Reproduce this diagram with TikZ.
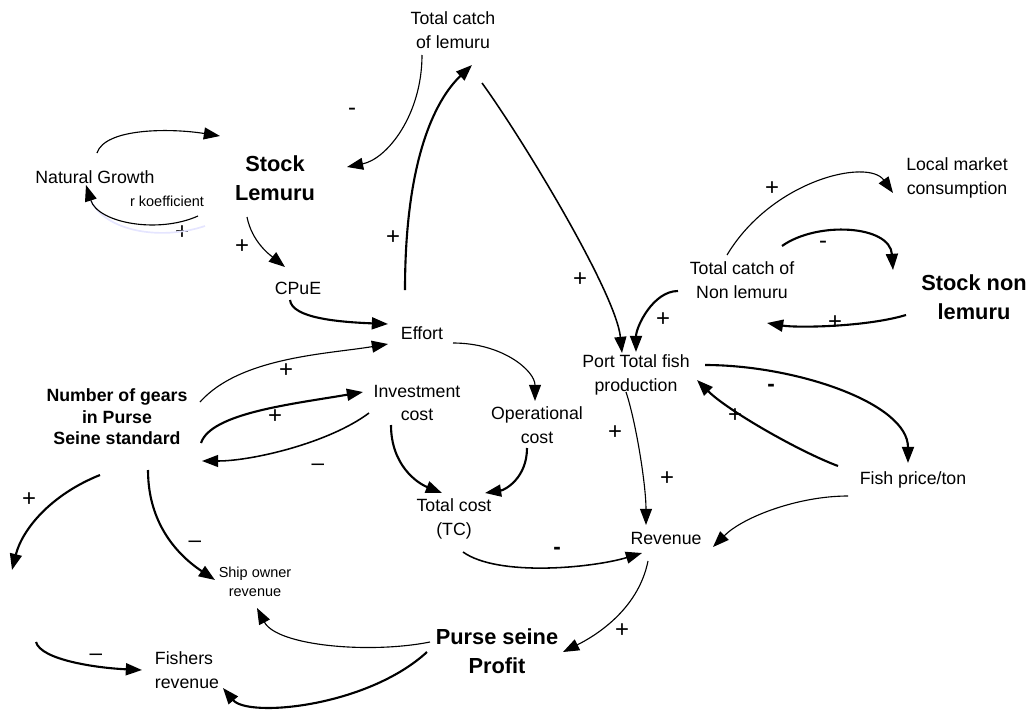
\documentclass[tikz,border=0pt]{standalone}
\usepackage{fontspec}
\setmainfont{Liberation Sans}
\usepackage{tikz}
\usetikzlibrary{arrows.meta,calc}

\begin{document}
\begin{tikzpicture}[
    x=0.025cm, y=-0.025cm,
    var/.style={align=center, inner sep=0pt, font=\fontsize{12.6}{16.8}\selectfont},
    bigvar/.style={align=center, inner sep=0pt, font=\fontsize{15.5}{20.5}\selectfont\bfseries},
    gearvar/.style={align=center, inner sep=0pt, font=\fontsize{12.6}{15.3}\selectfont\bfseries},
    smallvar/.style={align=center, inner sep=0pt, font=\fontsize{10.3}{13.5}\selectfont},
    sign/.style={inner sep=0pt, font=\fontsize{17}{18}\selectfont},
    dashsign/.style={inner sep=0pt, font=\fontsize{16}{16}\selectfont},
    boldsign/.style={inner sep=0pt, font=\fontsize{16}{16}\selectfont\bfseries},
    arrow/.style={-{Triangle[length=11.5pt,width=8.5pt]}, line width=0.8pt},
    midarrow/.style={arrow, line width=1.1pt},
    thickarrow/.style={arrow, line width=1.5pt}
]
\useasboundingbox (0,0) rectangle (1032,717);

% Lemuru stock
\node[var] (tcl) at (453,30) {Total catch\\of lemuru};
\node[bigvar] (stock) at (275,178) {Stock\\Lemuru};
\node[var] (natg) at (95,177) {Natural Growth};
\node[smallvar] (rkoef) at (167,201) {r koefficient};
\node[var] (cpue) at (298,288) {CPuE};
\node[var] (effort) at (422,333) {Effort};

% Gears and costs
\node[gearvar] (gears) at (117,417) {Number of gears\\in Purse\\Seine standard};
\node[var] (invest) at (417,403) {Investment\\cost};
\node[var] (oper) at (537,425) {Operational\\cost};
\node[var] (tcost) at (454,519) {Total cost\\(TC)};

% Non lemuru and port
\node[var] (port) at (636,375) {Port Total fish\\production};
\node[var] (tcnl) at (742,280) {Total catch of\\Non lemuru};
\node[var] (local) at (957,178) {Local market\\consumption};
\node[bigvar] (stocknl) at (974,297) {Stock non\\lemuru};
\node[var] (price) at (913,480) {Fish price/ton};

% Revenue and profit
\node[var] (rev) at (666,538) {Revenue};
\node[bigvar] (profit) at (497,651) {Purse seine\\Profit};
\node[smallvar] (ship) at (255,582) {Ship owner\\revenue};
\node[var, align=left] (fishers) at (187,670) {Fishers\\revenue};

% Free ends
\coordinate (lost) at (12,570);
\coordinate (loose) at (36,642);

% Polarities
\node[sign] (sgn1) at (352,112) {-};
\node[sign] (sgn2) at (182,233) {+};
\node[sign] (sgn3) at (242,247) {+};
\node[sign] (sgn4) at (393,238) {+};
\node[sign] (sgn5) at (580,280) {+};
\node[sign] (sgn6) at (772,189) {+};
\node[sign] (sgn7) at (823,245) {-};
\node[sign] (sgn8) at (663,320) {+};
\node[sign] (sgn9) at (835,323) {+};
\node[sign] (sgn10) at (286,371) {+};
\node[sign] (sgn11) at (275,417) {+};
\node[dashsign] (sgn12) at (318,467) {–};
\node[boldsign] (sgn13) at (771,388) {-};
\node[sign] (sgn14) at (735,416) {+};
\node[sign] (sgn15) at (615,433) {+};
\node[sign] (sgn16) at (667,479) {+};
\node[sign] (sgn17) at (29,500) {+};
\node[dashsign] (sgn18) at (195,544) {–};
\node[boldsign] (sgn19) at (557,551) {-};
\node[sign] (sgn20) at (622,631) {+};
\node[dashsign] (sgn21) at (96,657) {–};

% Faint shadow under the growth loop
\draw[blue!10, line width=1.2pt] ($(rkoef)+(38,25)$) .. controls +(-45,15) and +(15,30) .. ($(natg)+(-4,24)$);

% Arrows
\draw[arrow] ($(natg)+(2,-24)$) .. controls +(8,-25) and +(-50,-8) .. ($(stock)+(-55,-42)$);
\draw[arrow] ($(rkoef)+(31,15)$) .. controls +(-40,18) and +(12,38) .. ($(natg)+(-9,8)$);
\draw[arrow] ($(tcl)+(-31,25)$) .. controls +(0,60) and +(40,-8) .. ($(stock)+(72,-11)$);
\draw[arrow] ($(stock)+(-28,39)$) .. controls +(5,25) and +(-15,-12) .. ($(cpue)+(-13,-21)$);
\draw[thickarrow] ($(cpue)+(-8,12)$) .. controls +(2,18) and +(-50,-2) .. ($(effort)+(-34,-9)$);
\draw[thickarrow] ($(effort)+(-17,-43)$) .. controls +(0,-130) and +(-37,35) .. ($(tcl)+(19,35)$);
\draw[midarrow] ($(tcl)+(29,53)$) .. controls +(40,55) and +(-6,-60) .. ($(port)+(-14,-22)$);
\draw[thickarrow] ($(tcnl)+(40,-34)$) .. controls +(35,-25) and +(-3,-45) .. ($(stocknl)+(-81,-27)$);
\draw[thickarrow] ($(stocknl)+(-68,18)$) .. controls +(-40,12) and +(30,5) .. ($(tcnl)+(25,43)$);
\draw[arrow] ($(tcnl)+(-15,-25)$) .. controls +(45,-75) and +(-25,-35) .. ($(local)+(-64,15)$);
\draw[thickarrow] ($(tcnl)+(-64,11)$) .. controls +(-25,0) and +(0,-25) .. ($(port)+(0,-23)$);
\draw[thickarrow] ($(port)+(69,-10)$) .. controls +(90,0) and +(0,-60) .. ($(price)+(-5,-17)$);
\draw[thickarrow] ($(price)+(-75,-14)$) .. controls +(-40,-15) and +(30,30) .. ($(port)+(61,5)$);
\draw[arrow] ($(port)+(-10,17)$) .. controls +(10,30) and +(0,-40) .. ($(rev)+(-20,-13)$);
\draw[arrow] ($(price)+(-65,16)$) .. controls +(-50,0) and +(30,-30) .. ($(rev)+(47,9)$);
\draw[arrow] ($(effort)+(31,10)$) .. controls +(50,0) and +(0,-30) .. ($(oper)+(-2,-24)$);
\draw[thickarrow] ($(invest)+(-26,22)$) .. controls +(0,40) and +(-25,-10) .. ($(tcost)+(-12,-26)$);
\draw[thickarrow] ($(oper)+(-10,23)$) .. controls +(0,30) and +(20,-3) .. ($(tcost)+(31,-26)$);
\draw[arrow] ($(gears)+(83,-15)$) .. controls +(40,-45) and +(-60,10) .. ($(effort)+(-34,11)$);
\draw[thickarrow] ($(gears)+(84,26)$) .. controls +(10,-30) and +(-70,12) .. ($(invest)+(-54,-11)$);
\draw[midarrow] ($(invest)+(-48,10)$) .. controls +(-40,30) and +(50,0) .. ($(gears)+(85,44)$);
\draw[thickarrow] ($(gears)+(-17,58)$) .. controls +(-50,20) and +(10,-40) .. (lost);
\draw[thickarrow] ($(gears)+(31,53)$) .. controls +(0,60) and +(-30,-20) .. ($(ship)+(-40,-2)$);
\draw[midarrow] ($(tcost)+(9,33)$) .. controls +(35,25) and +(-50,15) .. ($(rev)+(-24,15)$);
\draw[arrow] ($(rev)+(-18,23)$) .. controls +(-10,50) and +(30,-15) .. ($(profit)+(66,1)$);
\draw[arrow] ($(profit)+(-67,-9)$) .. controls +(-60,12) and +(20,38) .. ($(ship)+(2,26)$);
\draw[thickarrow] ($(profit)+(-70,1)$) .. controls +(-60,55) and +(25,30) .. ($(fishers)+(36,18)$);
\draw[thickarrow] (loose) .. controls +(5,18) and +(-45,-2) .. ($(fishers)+(-45,0)$);

\end{tikzpicture}
\end{document}
